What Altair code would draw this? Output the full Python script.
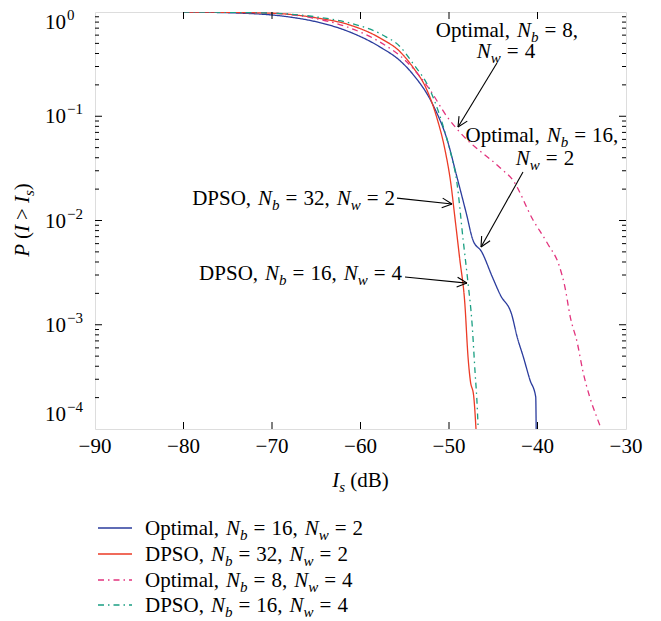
import math
import numpy as np
import pandas as pd
import altair as alt

FONT = "Liberation Serif"

# ---------------- data ----------------
series_names = ["Optimal, Nb=16, Nw=2", "DPSO, Nb=32, Nw=2", "Optimal, Nb=8, Nw=4", "DPSO, Nb=16, Nw=4"]
series_colors = ["#2b3c9d", "#ec3b26", "#e2337d", "#1a9f82"]
series_dashes = [[1, 0], [1, 0], [6, 4, 1.5, 4], [6, 4, 1.5, 4]]

opt16_x = [-80.0, -72.5, -68.0, -64.9, -61.5, -57.8, -55.5, -54.1, -51.8, -50.2, -49.1, -48.0,
           -47.3, -46.3, -45.1, -44.2, -42.9, -42.3, -41.6, -40.85, -40.2, -40.15]
opt16_p = [1.0, 0.967, 0.895, 0.802, 0.657, 0.462, 0.339, 0.254, 0.128, 0.0592, 0.0261, 0.0113,
           0.0065, 0.00499, 0.00287, 0.00193, 0.00124, 0.000764, 0.000491, 0.000295, 0.000203, 0.0001]

dpso32_x = [-80.0, -70.6, -64.9, -61.2, -57.8, -55.5, -54.1, -52.5, -51.4, -50.45, -49.8, -49.3,
            -48.8, -48.2, -47.85, -47.6, -47.2, -46.95]
dpso32_p = [1.0, 0.978, 0.876, 0.750, 0.563, 0.413, 0.297, 0.179, 0.0984, 0.0475, 0.0229, 0.0101,
            0.00437, 0.00155, 0.000491, 0.000295, 0.000203, 0.0001]

opt8_x = [-80.0, -70.6, -65.4, -61.5, -57.8, -54.75, -52.15, -50.2, -48.8, -44.2, -42.8, -40.5,
          -38.9, -37.5, -36.9, -36.3, -35.5, -34.9, -34.1, -33.3, -32.8]
opt8_p = [1.0, 0.978, 0.876, 0.718, 0.515, 0.331, 0.179, 0.0984, 0.0706, 0.0319, 0.0245, 0.0101,
          0.00608, 0.00358, 0.00230, 0.00119, 0.000668, 0.000368, 0.000203, 0.000130, 0.0001]

dpso16_x = [-80.0, -70.6, -64.9, -61.2, -57.5, -55.5, -54.1, -52.15, -50.7, -49.9, -49.1, -48.4,
            -47.85, -47.4, -47.05, -46.85, -46.7]
dpso16_p = [1.0, 0.978, 0.895, 0.784, 0.602, 0.462, 0.324, 0.179, 0.0824, 0.0475, 0.0229, 0.0065,
            0.00251, 0.00104, 0.000345, 0.000190, 0.0001]

x_ticks = [-90, -80, -70, -60, -50, -40, -30]
y_decades = [0, -1, -2, -3, -4]

# annotation arrows (start -> tip), data units
arrow_start_x = [-44.58, -41.64, -55.88, -54.97]
arrow_start_p = [0.324, 0.0292, 0.0164, 0.00287]
arrow_tip_x = [-48.98, -46.38, -49.66, -47.97]
arrow_tip_p = [0.0788, 0.00557, 0.0144, 0.00251]

# ---------------- geometry helpers ----------------
W, H = 531, 417
PL, PT = 95, 12            # page position of plot's top-left corner
X0, X1 = -90.0, -30.0
L0, L1 = -4.0, 0.0


def page_x(v):
    return PL + (v - X0) / (X1 - X0) * W


def page_y(p):
    return PT + (L1 - math.log10(p)) / (L1 - L0) * H


def data_x(px):
    return X0 + (px - PL) / W * (X1 - X0)


def data_y(py):
    return 10 ** (L1 - (py - PT) / H * (L1 - L0))


W_REG = {' ': 250, ',': 250, '=': 564, '(': 333, ')': 333, '>': 564, '\u2212': 564,
         'O': 722, 'p': 500, 't': 278, 'i': 278, 'm': 778, 'a': 444, 'l': 278,
         'D': 722, 'P': 556, 'S': 556, 'B': 667, 'd': 500}
W_ITA = {'N': 667, 'b': 500, 'w': 667, 'I': 333, 's': 389, 'P': 611}
SIZE = {"r": 21, "i": 21, "sub": 15, "sup": 15}
ITALIC = {"r": False, "i": True, "sub": True, "sup": False}
SHIFT = {"r": 0, "i": 0, "sub": 5, "sup": -9}


def tok_width(text, st):
    table = W_ITA if ITALIC[st] else W_REG
    return sum(table.get(c, 500) for c in text) * SIZE[st] / 1000.0


def rich(tokens, x, y, align="left", angle=0):
    widths = [t if isinstance(t, (int, float)) else tok_width(*t) for t in tokens]
    total = sum(widths)
    cur = {"left": 0.0, "center": -total / 2, "right": -total}[align]
    rows = []
    for t, w in zip(tokens, widths):
        if not isinstance(t, (int, float)):
            text, st = t
            if angle == 0:
                px, py = x + cur, y + SHIFT[st]
            else:
                px, py = x + SHIFT[st], y - cur
            rows.append(dict(x=data_x(px), y=data_y(py), t=text, st=st, a=angle))
        cur += w
    return rows


GC, GE = 7, 6


def nb_nw(prefix, nb, nw):
    return [(prefix, "r"), GC, ("N", "i"), ("b", "sub"), GE, ("=", "r"), GE, (nb + ",", "r"), GC,
            ("N", "i"), ("w", "sub"), GE, ("=", "r"), GE, (nw, "r")]


# ---------------- line data ----------------
frames = []
for name, xs_, ps_ in zip(series_names, [opt16_x, dpso32_x, opt8_x, dpso16_x],
                          [opt16_p, dpso32_p, opt8_p, dpso16_p]):
    frames.append(pd.DataFrame({"s": name, "x": xs_, "p": ps_, "i": range(len(xs_))}))
lines_df = pd.concat(frames, ignore_index=True)

xs = alt.Scale(domain=[X0, X1], nice=False, zero=False)
ys = alt.Scale(type="log", domain=[1e-4, 1], nice=False)
cscale = alt.Scale(domain=series_names, range=series_colors)
dscale = alt.Scale(domain=series_names, range=series_dashes)

lines = alt.Chart(lines_df).mark_line(strokeWidth=1.3, clip=True, interpolate="monotone").encode(
    x=alt.X("x:Q", scale=xs, axis=None),
    y=alt.Y("p:Q", scale=ys, axis=None),
    color=alt.Color("s:N", scale=cscale, legend=None),
    strokeDash=alt.StrokeDash("s:N", scale=dscale, legend=None),
    order="i:Q",
)

# ---------------- ticks (inward, MATLAB style) ----------------
tick_rows = []
for v in x_ticks[1:-1]:
    tick_rows.append(dict(x=v, y=1e-4, x2=v, y2=data_y(PT + H - 7)))
    tick_rows.append(dict(x=v, y=1.0, x2=v, y2=data_y(PT + 7)))
for k in y_decades:
    for m in range(1, 10):
        p = m * 10 ** k
        if p >= 1 or p < 1e-4 or (m == 1 and k in (0, -4)):
            continue
        L = 7 if m == 1 else 4
        tick_rows.append(dict(x=X0, y=p, x2=data_x(PL + L), y2=p))
        tick_rows.append(dict(x=X1, y=p, x2=data_x(PL + W - L), y2=p))
ticks = alt.Chart(pd.DataFrame(tick_rows)).mark_rule(color="black", strokeWidth=1).encode(
    x=alt.X("x:Q", scale=xs, axis=None), y=alt.Y("y:Q", scale=ys, axis=None),
    x2="x2:Q", y2="y2:Q")

# ---------------- arrows ----------------
arrow_rows = []
for sx, sp, tx, tp in zip(arrow_start_x, arrow_start_p, arrow_tip_x, arrow_tip_p):
    arrow_rows.append(dict(x=sx, y=sp, x2=tx, y2=tp))
    a, b = page_x(tx), page_y(tp)
    c, d = page_x(sx), page_y(sp)
    n = math.hypot(c - a, d - b)
    ux, uy = (c - a) / n, (d - b) / n
    for ang in (math.radians(26), -math.radians(26)):
        rx = ux * math.cos(ang) - uy * math.sin(ang)
        ry = ux * math.sin(ang) + uy * math.cos(ang)
        arrow_rows.append(dict(x=tx, y=tp, x2=data_x(a + 11 * rx), y2=data_y(b + 11 * ry)))
arrows = alt.Chart(pd.DataFrame(arrow_rows)).mark_rule(color="black", strokeWidth=1.1).encode(
    x=alt.X("x:Q", scale=xs, axis=None), y=alt.Y("y:Q", scale=ys, axis=None),
    x2="x2:Q", y2="y2:Q")

# ---------------- texts ----------------
text_rows = []
# in-plot annotations
text_rows += rich([("Optimal,", "r"), GC, ("N", "i"), ("b", "sub"), GE, ("=", "r"), GE, ("8,", "r")],
                  page_x(-43.45), page_y(0.575), "center")
text_rows += rich([("N", "i"), ("w", "sub"), GE, ("=", "r"), GE, ("4", "r")],
                  page_x(-43.56), page_y(0.362), "center")
text_rows += rich([("Optimal,", "r"), GC, ("N", "i"), ("b", "sub"), GE, ("=", "r"), GE, ("16,", "r")],
                  page_x(-39.50), page_y(0.0566), "center")
text_rows += rich([("N", "i"), ("w", "sub"), GE, ("=", "r"), GE, ("2", "r")],
                  page_x(-39.15), page_y(0.0341), "center")
text_rows += rich(nb_nw("DPSO,", "32", "2"), page_x(-56.10), page_y(0.0141), "right")
text_rows += rich(nb_nw("DPSO,", "16", "4"), page_x(-55.31), page_y(0.00269), "right")

# x tick labels
for v in x_ticks:
    text_rows += rich([(str(v).replace('-', '\u2212'), "r")], page_x(v), 453, "center")

# y tick labels 10^k
y_label_base = {0: 29, -4: 421}
for k in y_decades:
    base = y_label_base.get(k, page_y(10.0 ** k) + 7)
    text_rows += rich([("10", "r")], 45, base)
    text_rows += rich([(str(k).replace('-', '\u2212'), "sup")], 67, base)

# axis titles
text_rows += rich([("I", "i"), ("s", "sub"), 5, ("(dB)", "r")], PL + W / 2, 487, "center")
text_rows += rich([("P", "i"), 5, ("(", "r"), ("I", "i"), 5, (">", "r"), 5, ("I", "i"), ("s", "sub"),
                   (")", "r")], 29, 220, "center", angle=270)

# legend
legend_tokens = [nb_nw("Optimal,", "16", "2"), nb_nw("DPSO,", "32", "2"),
                 nb_nw("Optimal,", "8", "4"), nb_nw("DPSO,", "16", "4")]
legend_y = [528, 554, 580, 605]
leg_rows = []
for name, toks, ly in zip(series_names, legend_tokens, legend_y):
    text_rows += rich(toks, 145, ly + 7)
    leg_rows.append(dict(s=name, x=data_x(98), x2=data_x(132), y=data_y(ly), y2=data_y(ly)))

legend_lines = alt.Chart(pd.DataFrame(leg_rows)).mark_rule(strokeWidth=1.3).encode(
    x=alt.X("x:Q", scale=xs, axis=None), y=alt.Y("y:Q", scale=ys, axis=None),
    x2="x2:Q", y2="y2:Q",
    color=alt.Color("s:N", scale=cscale, legend=None),
    strokeDash=alt.StrokeDash("s:N", scale=dscale, legend=None))

tdf = pd.DataFrame(text_rows)
text_layers = []
for (st, ang), g in tdf.groupby(["st", "a"]):
    text_layers.append(
        alt.Chart(g).mark_text(font=FONT, fontSize=SIZE[st], fontStyle="italic" if ITALIC[st] else "normal",
                               align="left", baseline="alphabetic", angle=int(ang), color="black").encode(
            x=alt.X("x:Q", scale=xs, axis=None), y=alt.Y("y:Q", scale=ys, axis=None), text="t:N"))

chart = alt.layer(lines, ticks, arrows, legend_lines, *text_layers).properties(
    width=W, height=H,
    autosize=alt.AutoSizeParams(type="none"),
    padding={"left": 87, "top": 4, "right": 20, "bottom": 194},
).configure_view(stroke="black", strokeWidth=1).configure(background="white")

chart.save("out.html", embed_options={"renderer": "svg", "actions": False})
